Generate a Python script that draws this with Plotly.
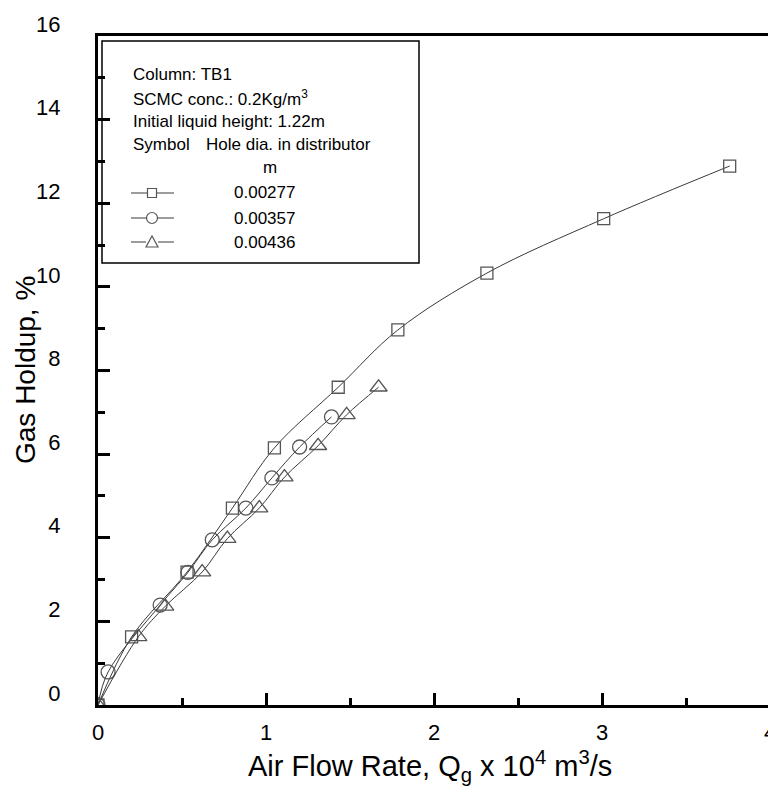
import plotly.graph_objects as go

# ---- data ----
sq_x = [0.0, 0.20, 0.53, 0.80, 1.05, 1.43, 1.785, 2.315, 3.01, 3.76]
sq_y = [0.0, 1.63, 3.18, 4.71, 6.15, 7.60, 8.97, 10.33, 11.63, 12.89]

ci_x = [0.0, 0.06, 0.37, 0.535, 0.68, 0.88, 1.035, 1.20, 1.39]
ci_y = [0.0, 0.79, 2.39, 3.17, 3.95, 4.71, 5.43, 6.17, 6.89]

tr_x = [0.0, 0.24, 0.40, 0.62, 0.77, 0.96, 1.11, 1.31, 1.48, 1.67]
tr_y = [0.0, 1.63, 2.36, 3.18, 3.98, 4.71, 5.45, 6.20, 6.94, 7.60]

series_names = ["0.00277", "0.00357", "0.00436"]
x_ticks = [0, 1, 2, 3, 4]
y_ticks = [0, 2, 4, 6, 8, 10, 12, 14, 16]

# ---- layout geometry (pixels, in reference-image coordinates) ----
OFF = 8  # the page body adds an 8px margin; compensate for it
W, H = 776 - OFF, 804 - OFF
L, R, T, B = 98, 770, 36, 705  # plot area edges in reference pixels

def PX(px):
    return (px - L) / (R - L)

def PY(py):
    return (B - py) / (B - T)

FONT = "Liberation Sans, Arial, sans-serif"
LINE_C = "#3a3a3a"
MK_C = "#555555"

fig = go.Figure()

for xs, ys, sym, size, name in [
    (sq_x, sq_y, "square-open", 12, series_names[0]),
    (ci_x, ci_y, "circle-open", 14, series_names[1]),
    (tr_x, tr_y, "triangle-up-open", 15, series_names[2]),
]:
    fig.add_trace(go.Scatter(
        x=xs, y=ys, mode="lines+markers", name=name,
        line=dict(color=LINE_C, width=1, shape="spline", smoothing=1.0),
        marker=dict(symbol=sym, size=size, color=MK_C, line=dict(width=1.3, color=MK_C)),
        showlegend=False,
    ))

shapes = []
annotations = []

# legend box
shapes.append(dict(type="rect", xref="paper", yref="paper",
                   x0=PX(102), x1=PX(419), y0=PY(263), y1=PY(41),
                   line=dict(color="black", width=1.5), fillcolor="white", layer="below"))

def txt(text, px, py, xanchor="left", size=17):
    annotations.append(dict(text=text, xref="paper", yref="paper", x=PX(px), y=PY(py),
                            xanchor=xanchor, yanchor="middle", showarrow=False,
                            font=dict(family=FONT, size=size, color="black")))

txt("Column: TB1", 131, 75)
txt("SCMC conc.: 0.2Kg/m<sup>3</sup>", 131, 98)
txt("Initial liquid height: 1.22m", 131, 121)
txt("Symbol", 131, 144)
txt("Hole dia. in distributor", 204, 144)
txt("m", 270, 167, xanchor="center")
rows_y = [193, 218, 242]
for name, ry in zip(series_names, rows_y):
    txt(name, 232, ry)

# legend symbol samples
for kind, ry in zip(["sq", "ci", "tr"], rows_y):
    shapes.append(dict(type="line", xref="paper", yref="paper",
                       x0=PX(131), x1=PX(146) if kind != "sq" else PX(147), y0=PY(ry), y1=PY(ry),
                       line=dict(color=LINE_C, width=1)))
    shapes.append(dict(type="line", xref="paper", yref="paper",
                       x0=PX(158) if kind != "sq" else PX(157), x1=PX(174), y0=PY(ry), y1=PY(ry),
                       line=dict(color=LINE_C, width=1)))
    if kind == "sq":
        shapes.append(dict(type="rect", xref="paper", yref="paper",
                           x0=PX(147.5), x1=PX(156.5), y0=PY(ry + 4.5), y1=PY(ry - 4.5),
                           line=dict(color=MK_C, width=1.2)))
    elif kind == "ci":
        shapes.append(dict(type="circle", xref="paper", yref="paper",
                           x0=PX(146.5), x1=PX(157.5), y0=PY(ry + 5.5), y1=PY(ry - 5.5),
                           line=dict(color=MK_C, width=1.2)))
    else:
        x0, x1, xm = PX(146), PX(158), PX(152)
        yb, yt = PY(ry + 5), PY(ry - 6)
        shapes.append(dict(type="path", xref="paper", yref="paper",
                           path=f"M {x0} {yb} L {x1} {yb} L {xm} {yt} Z",
                           line=dict(color=MK_C, width=1.2)))

# axis titles
annotations.append(dict(text="Air Flow Rate, Q<sub>g</sub> x 10<sup>4</sup> m<sup>3</sup>/s",
                        xref="paper", yref="paper", x=PX(430), y=PY(766),
                        xanchor="center", yanchor="middle", showarrow=False,
                        font=dict(family=FONT, size=29, color="black")))
annotations.append(dict(text="Gas Holdup, %", xref="paper", yref="paper",
                        x=PX(25), y=PY(370), xanchor="center", yanchor="middle",
                        textangle=-90, showarrow=False,
                        font=dict(family=FONT, size=28, color="black")))

fig.update_layout(
    width=W, height=H,
    margin=dict(l=L - OFF, r=(776 - R), t=T - OFF, b=(804 - B), autoexpand=False),
    paper_bgcolor="white", plot_bgcolor="white",
    font=dict(family=FONT, color="black"),
    shapes=shapes, annotations=annotations,
    showlegend=False,
)

fig.update_xaxes(
    range=[0, 4], tickvals=x_ticks, ticktext=[str(v) for v in x_ticks],
    showgrid=False, zeroline=False,
    showline=True, linecolor="black", linewidth=3, mirror=True,
    ticks="inside", ticklen=12, tickwidth=2.5, tickcolor="black",
    minor=dict(dtick=0.5, ticks="inside", ticklen=7, tickwidth=2.5, tickcolor="black"),
    tickfont=dict(family=FONT, size=22, color="black"),
    ticklabelstandoff=6, ticklabeloverflow="allow",
)
fig.update_yaxes(
    range=[0, 16], tickvals=y_ticks, ticktext=[str(v) for v in y_ticks],
    showgrid=False, zeroline=False,
    showline=True, linecolor="black", linewidth=3, mirror=True,
    ticks="inside", ticklen=12, tickwidth=2.5, tickcolor="black",
    minor=dict(dtick=1, ticks="inside", ticklen=7, tickwidth=2.5, tickcolor="black"),
    tickfont=dict(family=FONT, size=22, color="black"),
    ticklabelstandoff=30, ticklabelshift=-12, ticklabeloverflow="allow",
)

fig.write_html("out.html")
